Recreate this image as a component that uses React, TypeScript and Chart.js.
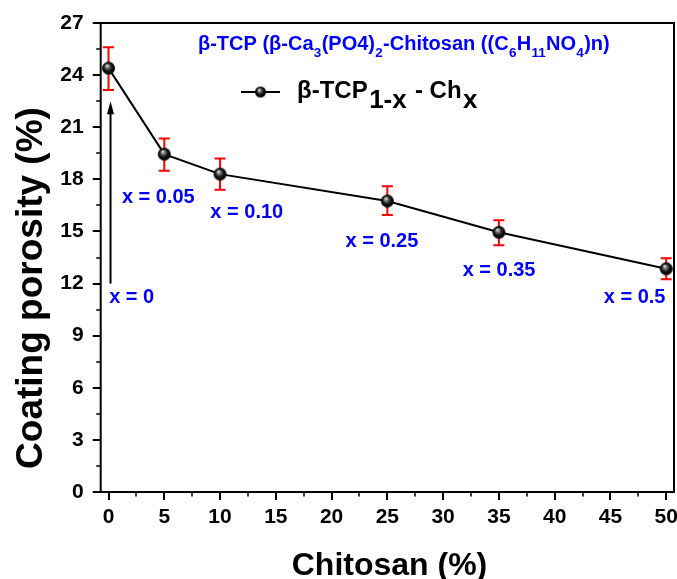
import React, { useEffect, useRef } from 'react';
import { Chart, registerables } from 'chart.js';

Chart.register(...registerables);

// ---- data ----
const chitosan = [0, 5, 10, 25, 35, 50];
const porosity = [24.4, 19.45, 18.3, 16.75, 14.95, 12.85];
const errUpper = [25.6, 20.35, 19.2, 17.6, 15.65, 13.45];
const errLower = [23.15, 18.5, 17.4, 15.95, 14.2, 12.25];

const xTickValues = [0, 5, 10, 15, 20, 25, 30, 35, 40, 45, 50];
const xMinorValues = [2.5, 7.5, 12.5, 17.5, 22.5, 27.5, 32.5, 37.5, 42.5, 47.5];
const yTickValues = [0, 3, 6, 9, 12, 15, 18, 21, 24, 27];
const yMinorValues = [1.5, 4.5, 7.5, 10.5, 13.5, 16.5, 19.5, 22.5, 25.5];

const compLabels = ['x = 0', 'x = 0.05', 'x = 0.10', 'x = 0.25', 'x = 0.35', 'x = 0.5'];
const compLabelX = [0.06, 1.2, 9.13, 21.25, 31.75, 44.4];
const compLabelY = [11.17, 16.93, 16.12, 14.45, 12.78, 11.17];

const arrowX = 0.18;
const arrowFrom = 12.0;
const arrowTo = 22.5;

const xTitle = 'Chitosan (%)';
const yTitle = 'Coating porosity (%)';

const titleParts = [
  { t: 'β-TCP (β-Ca', sub: false },
  { t: '3', sub: true },
  { t: '(PO4)', sub: false },
  { t: '2', sub: true },
  { t: '-Chitosan ((C', sub: false },
  { t: '6', sub: true },
  { t: 'H', sub: false },
  { t: '11', sub: true },
  { t: 'NO', sub: false },
  { t: '4', sub: true },
  { t: ')n)', sub: false },
];
const legendParts = [
  { t: 'β-TCP', sub: false },
  { t: '1-x', sub: true },
  { t: ' - Ch', sub: false },
  { t: 'x', sub: true },
];

const FONT = '"Liberation Sans", Arial, Helvetica, sans-serif';
const BLUE = '#0000FF';

function makeSphere(r: number): HTMLCanvasElement {
  const size = Math.ceil(r * 2) + 2;
  const c = document.createElement('canvas');
  c.width = size;
  c.height = size;
  const g = c.getContext('2d')!;
  const cx = size / 2;
  const cy = size / 2;
  const grad = g.createRadialGradient(cx - r * 0.25, cy - r * 0.4, r * 0.05, cx, cy, r);
  grad.addColorStop(0, '#eeeeee');
  grad.addColorStop(0.25, '#7a7a7a');
  grad.addColorStop(0.6, '#151515');
  grad.addColorStop(1, '#000000');
  g.beginPath();
  g.arc(cx, cy, r, 0, Math.PI * 2);
  g.fillStyle = grad;
  g.fill();
  return c;
}

function drawRich(
  ctx: CanvasRenderingContext2D,
  x: number,
  y: number,
  parts: { t: string; sub: boolean }[],
  mainFont: string,
  subFont: string,
  subDy: number,
  subGap: number,
  color: string
) {
  ctx.fillStyle = color;
  ctx.textAlign = 'left';
  ctx.textBaseline = 'alphabetic';
  let cx = x;
  for (const p of parts) {
    ctx.font = p.sub ? subFont : mainFont;
    if (p.sub) cx += subGap;
    ctx.fillText(p.t, cx, y + (p.sub ? subDy : 0));
    cx += ctx.measureText(p.t).width;
    if (p.sub) cx += subGap;
  }
}

export default function App() {
  const ref = useRef<HTMLCanvasElement | null>(null);

  useEffect(() => {
    document.body.style.margin = '0';
    const canvas = ref.current;
    if (!canvas) return;
    const sphere = makeSphere(6.5);
    const legendSphere = makeSphere(5.5);

    const errorBars = {
      id: 'errorBars',
      beforeDatasetsDraw(chart: any) {
        const { ctx, scales } = chart;
        const xs = scales.x;
        const ys = scales.y;
        ctx.save();
        ctx.strokeStyle = '#FF0000';
        ctx.lineWidth = 2;
        for (let i = 0; i < chitosan.length; i++) {
          const px = xs.getPixelForValue(chitosan[i]);
          const top = ys.getPixelForValue(errUpper[i]);
          const bot = ys.getPixelForValue(errLower[i]);
          ctx.beginPath();
          ctx.moveTo(px, top);
          ctx.lineTo(px, bot);
          ctx.moveTo(px - 5.5, top);
          ctx.lineTo(px + 5.5, top);
          ctx.moveTo(px - 5.5, bot);
          ctx.lineTo(px + 5.5, bot);
          ctx.stroke();
        }
        ctx.restore();
      },
    };

    const decor = {
      id: 'decor',
      afterDraw(chart: any) {
        const { ctx, chartArea, scales } = chart;
        const xs = scales.x;
        const ys = scales.y;
        const { left, right, top, bottom } = chartArea;
        ctx.save();
        // frame
        ctx.strokeStyle = '#000';
        ctx.lineWidth = 2;
        ctx.strokeRect(left, top, right - left, bottom - top);
        // ticks
        ctx.beginPath();
        for (const v of xTickValues) {
          const p = Math.round(xs.getPixelForValue(v));
          ctx.moveTo(p, bottom);
          ctx.lineTo(p, bottom + 8);
        }
        for (const v of yTickValues) {
          const p = Math.round(ys.getPixelForValue(v));
          ctx.moveTo(left, p);
          ctx.lineTo(left - 8, p);
        }
        ctx.stroke();
        ctx.lineWidth = 1.5;
        ctx.beginPath();
        for (const v of xMinorValues) {
          const p = Math.round(xs.getPixelForValue(v));
          ctx.moveTo(p, bottom);
          ctx.lineTo(p, bottom + 4.5);
        }
        for (const v of yMinorValues) {
          const p = Math.round(ys.getPixelForValue(v));
          ctx.moveTo(left, p);
          ctx.lineTo(left - 4.5, p);
        }
        ctx.stroke();

        // arrow
        const ax = xs.getPixelForValue(arrowX);
        const ay0 = ys.getPixelForValue(arrowFrom);
        const ay1 = ys.getPixelForValue(arrowTo);
        ctx.lineWidth = 2;
        ctx.beginPath();
        ctx.moveTo(ax, ay0);
        ctx.lineTo(ax, ay1 + 10);
        ctx.stroke();
        ctx.fillStyle = '#000';
        ctx.beginPath();
        ctx.moveTo(ax, ay1);
        ctx.lineTo(ax - 3.5, ay1 + 13);
        ctx.lineTo(ax + 3.5, ay1 + 13);
        ctx.closePath();
        ctx.fill();

        // composition labels
        ctx.fillStyle = BLUE;
        ctx.font = `bold 20px ${FONT}`;
        ctx.textAlign = 'left';
        ctx.textBaseline = 'middle';
        for (let i = 0; i < compLabels.length; i++) {
          ctx.fillText(compLabels[i], xs.getPixelForValue(compLabelX[i]), ys.getPixelForValue(compLabelY[i]));
        }

        // title
        drawRich(ctx, 198, 50, titleParts, `bold 20px ${FONT}`, `bold 13.5px ${FONT}`, 7, 0.3, BLUE);

        // legend
        ctx.strokeStyle = '#000';
        ctx.lineWidth = 2;
        ctx.beginPath();
        ctx.moveTo(241, 92);
        ctx.lineTo(280, 92);
        ctx.stroke();
        ctx.drawImage(legendSphere, 260.5 - legendSphere.width / 2, 92 - legendSphere.height / 2);
        drawRich(ctx, 297, 98, legendParts, `bold 24px ${FONT}`, `bold 26px ${FONT}`, 10, 1.5, '#000');

        // axis titles
        ctx.fillStyle = '#000';
        ctx.font = `bold 32px ${FONT}`;
        ctx.textAlign = 'center';
        ctx.textBaseline = 'alphabetic';
        ctx.fillText(xTitle, 389.5, 575);
        ctx.save();
        ctx.translate(42, 288);
        ctx.rotate(-Math.PI / 2);
        ctx.font = `bold 37px ${FONT}`;
        ctx.fillText(yTitle, 0, 0);
        ctx.restore();

        ctx.restore();
      },
    };

    const chart = new Chart(canvas, {
      type: 'line',
      data: {
        datasets: [
          {
            data: chitosan.map((x, i) => ({ x, y: porosity[i] })),
            borderColor: '#000',
            borderWidth: 2,
            pointStyle: sphere as any,
            pointRadius: 6.5,
            pointHoverRadius: 6.5,
            tension: 0,
            fill: false,
          },
        ],
      },
      options: {
        responsive: false,
        animation: false,
        devicePixelRatio: 1,
        events: [],
        layout: { autoPadding: false, padding: { left: 0, top: 23, right: 3, bottom: 0 } },
        plugins: {
          legend: { display: false },
          tooltip: { enabled: false },
          title: { display: false },
        },
        scales: {
          x: {
            type: 'linear',
            min: -0.7,
            max: 50.7,
            afterBuildTicks: (s: any) => {
              s.ticks = xTickValues.map((v) => ({ value: v }));
            },
            afterFit: (s: any) => {
              s.height = 87;
              s.paddingLeft = 0;
              s.paddingRight = 0;
              s.paddingTop = 0;
              s.paddingBottom = 0;
            },
            grid: { display: true, drawOnChartArea: false, drawTicks: false },
            border: { display: false },
            ticks: {
              color: '#000',
              font: { family: FONT, size: 21, weight: 'bold' },
              padding: 13,
              maxRotation: 0,
              autoSkip: false,
            },
          },
          y: {
            type: 'linear',
            min: 0,
            max: 27,
            afterBuildTicks: (s: any) => {
              s.ticks = yTickValues.map((v) => ({ value: v }));
            },
            afterFit: (s: any) => {
              s.width = 100.7;
              s.paddingLeft = 0;
              s.paddingRight = 0;
              s.paddingTop = 0;
              s.paddingBottom = 0;
            },
            grid: { display: true, drawOnChartArea: false, drawTicks: false },
            border: { display: false },
            ticks: {
              color: '#000',
              font: { family: FONT, size: 21, weight: 'bold' },
              padding: 17,
              autoSkip: false,
            },
          },
        },
      },
      plugins: [errorBars, decor],
    });

    return () => chart.destroy();
  }, []);

  return (
    <div style={{ width: 677, height: 579, background: '#fff' }}>
      <canvas ref={ref} width={677} height={579} style={{ display: 'block', width: 677, height: 579 }} />
    </div>
  );
}
